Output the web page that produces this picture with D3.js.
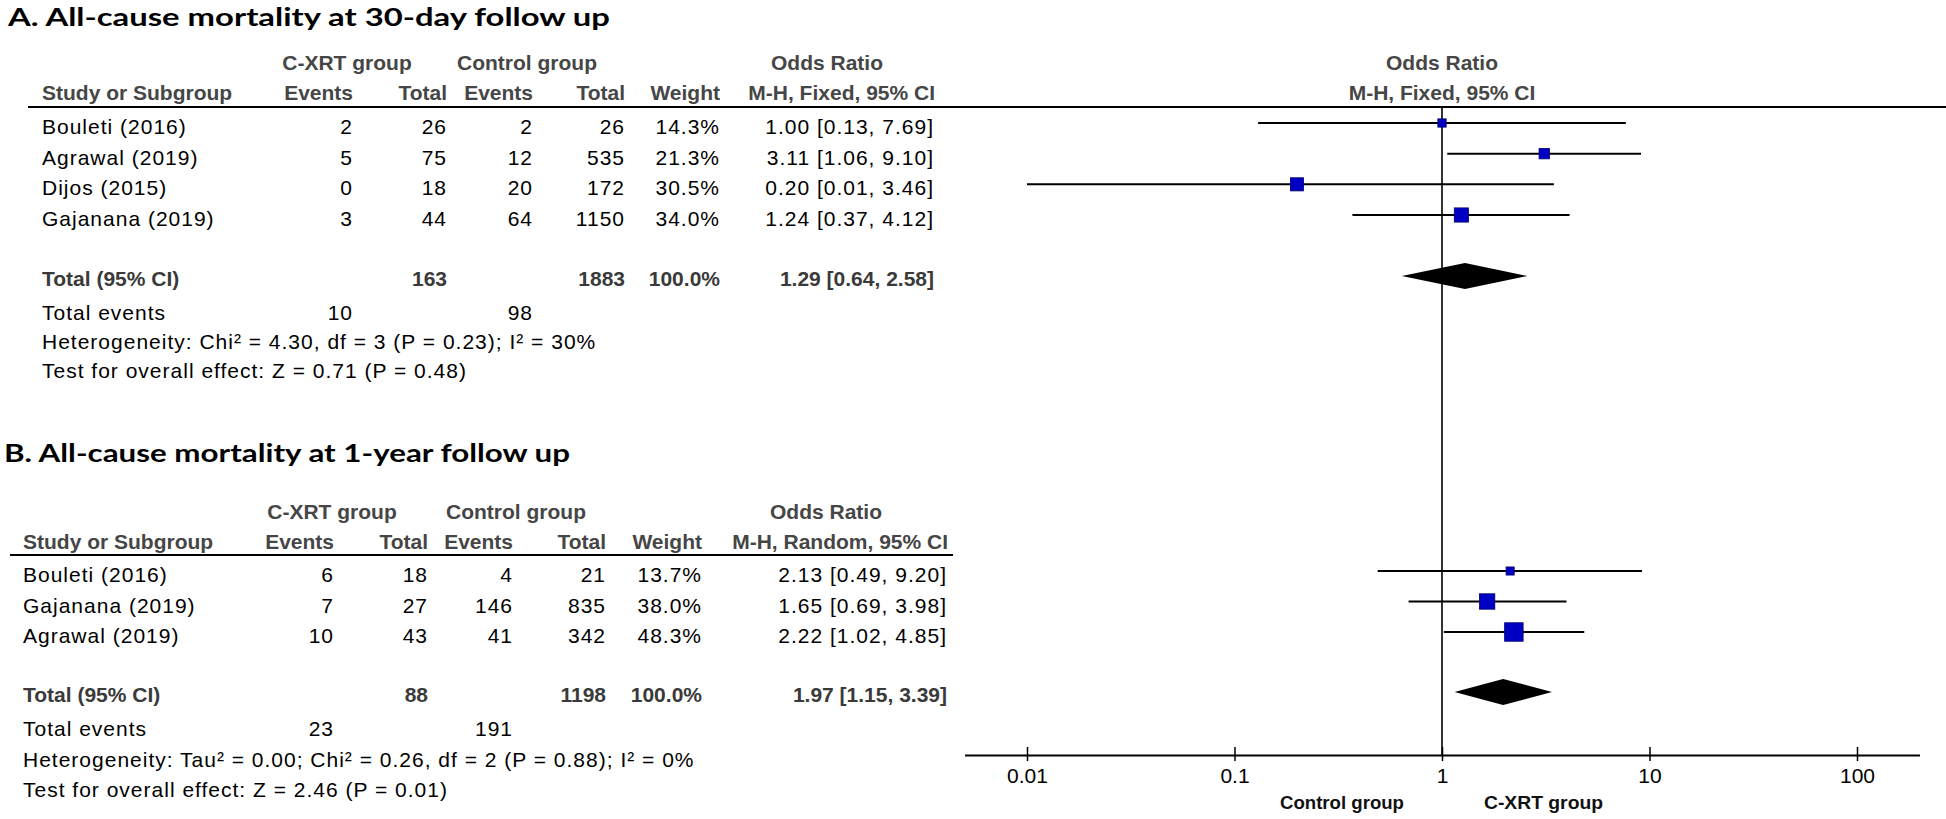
<!DOCTYPE html>
<html><head><meta charset="utf-8">
<script src="https://cdn.jsdelivr.net/npm/d3@7"></script>
<style>
html,body{margin:0;padding:0;background:#fff;}
svg{display:block;}
text{font-family:"Liberation Sans", Arial, sans-serif;}
.body{font-size:21px;letter-spacing:1px;fill:#000;}
.hdr{font-size:21px;font-weight:bold;fill:#464646;}
.tot{font-size:21px;font-weight:bold;fill:#3a3a3a;}
.title{font-family:Lato,"Open Sans",sans-serif;font-weight:bold;font-size:25px;fill:#000;}
</style></head><body><svg id="c" width="1946" height="819"></svg>
<script>
// ---------- Data: panel A (30-day) ----------
const studiesA   = ["Bouleti (2016)", "Agrawal (2019)", "Dijos (2015)", "Gajanana (2019)"];
const xrtEventsA = [2, 5, 0, 3];
const xrtTotalA  = [26, 75, 18, 44];
const ctlEventsA = [2, 12, 20, 64];
const ctlTotalA  = [26, 535, 172, 1150];
const weightA    = [14.3, 21.3, 30.5, 34.0];
const orA        = [1.00, 3.11, 0.20, 1.24];
const lowA       = [0.13, 1.06, 0.01, 0.37];
const highA      = [7.69, 9.10, 3.46, 4.12];
const totalsA    = [163, 1883];        // C-XRT total, control total
const totEventsA = [10, 98];
const pooledA    = [1.29, 0.64, 2.58]; // OR, low, high
const methodA    = "M-H, Fixed, 95% CI";
const hetA       = "Heterogeneity: Chi\u00b2 = 4.30, df = 3 (P = 0.23); I\u00b2 = 30%";
const testA      = "Test for overall effect: Z = 0.71 (P = 0.48)";
const titleA     = "A. All-cause mortality at 30-day follow up";

// ---------- Data: panel B (1-year) ----------
const studiesB   = ["Bouleti (2016)", "Gajanana (2019)", "Agrawal (2019)"];
const xrtEventsB = [6, 7, 10];
const xrtTotalB  = [18, 27, 43];
const ctlEventsB = [4, 146, 41];
const ctlTotalB  = [21, 835, 342];
const weightB    = [13.7, 38.0, 48.3];
const orB        = [2.13, 1.65, 2.22];
const lowB       = [0.49, 0.69, 1.02];
const highB      = [9.20, 3.98, 4.85];
const totalsB    = [88, 1198];
const totEventsB = [23, 191];
const pooledB    = [1.97, 1.15, 3.39];
const methodB    = "M-H, Random, 95% CI";
const hetB       = "Heterogeneity: Tau\u00b2 = 0.00; Chi\u00b2 = 0.26, df = 2 (P = 0.88); I\u00b2 = 0%";
const testB      = "Test for overall effect: Z = 2.46 (P = 0.01)";
const titleB     = "B. All-cause mortality at 1-year follow up";

// ---------- Axis ----------
const tickValues = [0.01, 0.1, 1, 10, 100];
const tickLabels = ["0.01", "0.1", "1", "10", "100"];
const favoursLeft  = "Control group";
const favoursRight = "C-XRT group";
const groupNames   = ["C-XRT group", "Control group"];

const svg = d3.select("#c");
const f2 = d3.format(".2f"), f1 = d3.format(".1f");

const x = d3.scaleLog().domain([0.01, 100]).range([1027, 1857]);
const boxSize = d3.scaleLinear().domain([0, 50]).range([4, 19]);
const axisY = 755;
const topLine = 107;

function txt(g, cls, s, xx, yy, anchor) {
  return g.append("text").attr("class", cls).attr("x", xx).attr("y", yy)
    .attr("text-anchor", anchor || "start").text(s);
}

function panel(P) {
  const g = svg.append("g");
  // title
  g.append("text").attr("class", "title").attr("x", P.titleX).attr("y", P.titleY)
    .attr("textLength", P.titleW).attr("lengthAdjust", "spacingAndGlyphs").text(P.title);
  const c = P.cols;
  // group header row
  txt(g, "hdr", groupNames[0], P.grpCenters[0], P.grpY, "middle");
  txt(g, "hdr", groupNames[1], P.grpCenters[1], P.grpY, "middle");
  txt(g, "hdr", "Odds Ratio", P.orCenter, P.grpY, "middle");
  // column header row
  txt(g, "hdr", "Study or Subgroup", P.labelX, P.hdrY);
  txt(g, "hdr", "Events", c[0], P.hdrY, "end");
  txt(g, "hdr", "Total", c[1], P.hdrY, "end");
  txt(g, "hdr", "Events", c[2], P.hdrY, "end");
  txt(g, "hdr", "Total", c[3], P.hdrY, "end");
  txt(g, "hdr", "Weight", c[4], P.hdrY, "end");
  txt(g, "hdr", P.method, c[5] + 1, P.hdrY, "end");
  g.append("line").attr("x1", P.lineX0).attr("x2", P.lineX1)
    .attr("y1", P.lineY).attr("y2", P.lineY).attr("stroke", "#000").attr("stroke-width", 2);

  const y = d3.scalePoint().domain(P.studies).range([P.rowY0, P.rowY1]);
  P.studies.forEach((s, i) => {
    const yy = y(s) + 11;
    txt(g, "body", s, P.labelX, yy);
    txt(g, "body", P.xe[i], c[0], yy, "end");
    txt(g, "body", P.xt[i], c[1], yy, "end");
    txt(g, "body", P.ce[i], c[2], yy, "end");
    txt(g, "body", P.ct[i], c[3], yy, "end");
    txt(g, "body", f1(P.w[i]) + "%", c[4], yy, "end");
    txt(g, "body", `${f2(P.or[i])} [${f2(P.lo[i])}, ${f2(P.hi[i])}]`, c[5], yy, "end");
  });
  // total row
  const ty = P.totalY + 10;
  txt(g, "tot", "Total (95% CI)", P.labelX, ty);
  txt(g, "tot", P.totals[0], c[1], ty, "end");
  txt(g, "tot", P.totals[1], c[3], ty, "end");
  txt(g, "tot", "100.0%", c[4], ty, "end");
  txt(g, "tot", `${f2(P.pooled[0])} [${f2(P.pooled[1])}, ${f2(P.pooled[2])}]`, c[5], ty, "end");
  txt(g, "body", "Total events", P.labelX, P.eventsY);
  txt(g, "body", P.totEvents[0], c[0], P.eventsY, "end");
  txt(g, "body", P.totEvents[1], c[2], P.eventsY, "end");
  txt(g, "body", P.het, P.labelX, P.hetY);
  txt(g, "body", P.test, P.labelX, P.testY);

  // forest marks
  const fg = svg.append("g").attr("class", "forest");
  P.studies.forEach((s, i) => {
    fg.append("line").attr("x1", x(P.lo[i])).attr("x2", x(P.hi[i]))
      .attr("y1", y(s)).attr("y2", y(s)).attr("stroke", "#000").attr("stroke-width", 2);
  });
  P.studies.forEach((s, i) => {
    const b = boxSize(P.w[i]);
    fg.append("rect").attr("x", x(P.or[i]) - b / 2).attr("y", y(s) - b / 2)
      .attr("width", b).attr("height", b).attr("fill", "#0000c4")
      .attr("stroke", "#00006a").attr("stroke-width", 0.8);
  });
  const dy = 13, yc = P.totalY;
  fg.append("path").attr("d", d3.line()([
    [x(P.pooled[1]), yc], [x(P.pooled[0]), yc - dy], [x(P.pooled[2]), yc], [x(P.pooled[0]), yc + dy]
  ]) + "Z").attr("fill", "#000");
}

// vertical reference line (OR = 1)
svg.append("line").attr("x1", x(1)).attr("x2", x(1)).attr("y1", topLine).attr("y2", axisY)
  .attr("stroke", "#000").attr("stroke-width", 1.6);

panel({
  title: titleA, titleX: 8, titleY: 26, titleW: 602,
  grpY: 70, hdrY: 100, lineY: topLine, lineX0: 28, lineX1: 1946, labelX: 42,
  cols: [353, 447, 533, 625, 720, 934], grpCenters: [347, 527], orCenter: 827,
  method: methodA, rowY0: 123, rowY1: 215, totalY: 276,
  eventsY: 320, hetY: 349, testY: 378,
  studies: studiesA, xe: xrtEventsA, xt: xrtTotalA, ce: ctlEventsA, ct: ctlTotalA,
  w: weightA, or: orA, lo: lowA, hi: highA, totals: totalsA, totEvents: totEventsA,
  pooled: pooledA, het: hetA, test: testA
});
panel({
  title: titleB, titleX: 4, titleY: 462, titleW: 566,
  grpY: 519, hdrY: 549, lineY: 555, lineX0: 10, lineX1: 953, labelX: 23,
  cols: [334, 428, 513, 606, 702, 947], grpCenters: [332, 516], orCenter: 826,
  method: methodB, rowY0: 571, rowY1: 632, totalY: 692,
  eventsY: 736, hetY: 767, testY: 797,
  studies: studiesB, xe: xrtEventsB, xt: xrtTotalB, ce: ctlEventsB, ct: ctlTotalB,
  w: weightB, or: orB, lo: lowB, hi: highB, totals: totalsB, totEvents: totEventsB,
  pooled: pooledB, het: hetB, test: testB
});

// forest header
txt(svg, "hdr", "Odds Ratio", x(1), 70, "middle");
txt(svg, "hdr", methodA, x(1), 100, "middle");

// axis
const xa = x.copy().domain([0.005, 200]).range([x(0.005), x(200)]);
const ax = svg.append("g").attr("transform", `translate(0,${axisY})`)
  .call(d3.axisBottom(xa).tickValues(tickValues).tickFormat((d, i) => tickLabels[i]).tickSizeOuter(0));
ax.select(".domain").attr("stroke", "#000").attr("stroke-width", 2);
ax.selectAll(".tick line").attr("y1", -8).attr("y2", 6).attr("stroke", "#000").attr("stroke-width", 1.5);
ax.selectAll(".tick text").attr("y", 28).attr("dy", null)
  .style("font-family", "'Liberation Sans', Arial, sans-serif").style("font-size", "21px").attr("fill", "#000");

svg.append("text").attr("x", x(1) - 38).attr("y", 809).attr("text-anchor", "end")
  .style("font-size", "18px").style("font-weight", "bold").attr("fill", "#111")
  .attr("textLength", 124).attr("lengthAdjust", "spacingAndGlyphs").text(favoursLeft);
svg.append("text").attr("x", x(1) + 42).attr("y", 809)
  .style("font-size", "18px").style("font-weight", "bold").attr("fill", "#111")
  .attr("textLength", 119).attr("lengthAdjust", "spacingAndGlyphs").text(favoursRight);
</script></body></html>
